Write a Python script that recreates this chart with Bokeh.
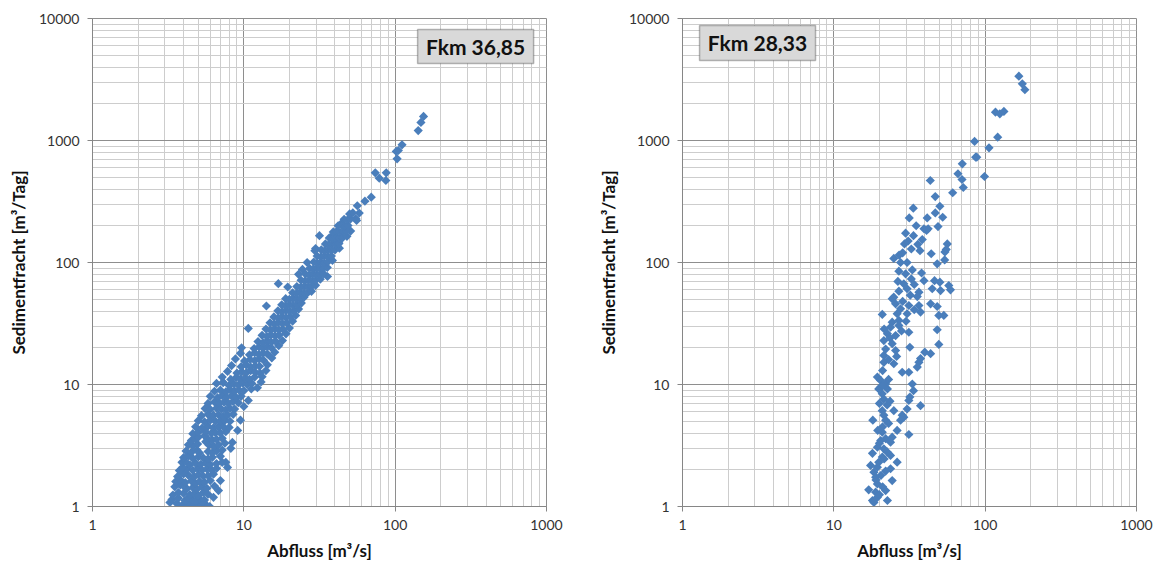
from bokeh.plotting import figure
from bokeh.layouts import row
from bokeh.models import FixedTicker, NumeralTickFormatter, BoxAnnotation, Label, ColumnDataSource
from bokeh.embed import file_html
from bokeh.resources import INLINE

# ---------------- data ----------------
x_ticks = [1, 10, 100, 1000]
y_ticks = [1, 10, 100, 1000, 10000]
x_title = "Abfluss [m³/s]"
y_title = "Sedimentfracht [m³/Tag]"
left_title = "Fkm 36,85"
right_title = "Fkm 28,33"

# Fkm 36,85 : discharge (m3/s) and sediment load (m3/day)
left_q = [
    154, 148, 142, 111, 105, 101.7, 103, 73.9, 78.5, 87.3, 86.8, 69.5, 63.1, 56.2, 57.9, 55, 55.6,
    44, 46.4, 50.8, 39.2, 42.4, 31.6, 29.8, 24.4, 35.7, 16.9, 14.1, 10.7, 9.66, 7.3,
    3.25, 3.9, 4.3, 4.6, 4.9, 5.2, 5.6, 5.95, 3.6, 5.4,
    3.35, 4.1, 4.5, 4.8, 5.1, 5.5, 6.3, 3.7, 4.3,
    3.4, 4.0, 4.4, 4.7, 5.0, 5.4, 5.8, 6.8, 3.7,
    3.5, 4.2, 4.6, 4.9, 5.3, 5.7, 6.4, 3.8, 4.0,
    3.55, 4.1, 4.5, 4.8, 5.1, 5.5, 6.0, 7.0, 3.8,
    3.65, 4.3, 4.7, 5.0, 5.4, 5.8, 6.3, 4.0,
    3.75, 4.2, 4.6, 4.95, 5.3, 5.7, 6.1, 7.6, 7.8, 3.95, 6.6,
    3.9, 4.4, 4.8, 5.2, 5.6, 6.0, 6.6, 4.1, 7.2,
    4.0, 4.6, 5.0, 5.4, 5.8, 6.2, 7.0, 4.3,
    4.15, 4.5, 5.8, 6.2, 6.6, 8.2, 4.9, 5.1, 7.2,
    4.3, 4.6, 5.9, 6.3, 6.8, 8.4, 4.95, 5.6, 7.5,
    4.5, 4.75, 5.75, 6.2, 6.6, 7.2, 5.0, 5.5,
    4.6, 5.0, 5.6, 6.1, 6.5, 7.0, 7.6, 9.1,
    4.8, 5.3, 5.8, 6.3, 6.8, 7.3, 8.0,
    5.0, 5.5, 6.0, 6.5, 7.0, 7.5, 8.1, 9.5,
    5.25, 5.8, 6.3, 6.8, 7.3, 7.8, 8.5,
    5.55, 6.0, 6.6, 7.1, 7.6, 8.1, 8.7, 10.0,
    5.8, 6.4, 6.9, 7.4, 7.9, 8.5, 9.2,
    6.0, 6.7, 7.2, 7.7, 8.3, 8.9, 9.6, 10.7,
    6.4, 7.0, 7.6, 8.1, 8.7, 9.3, 10.0, 11.2,
    6.6, 7.3, 8.0, 8.6, 9.2, 9.8, 10.5, 11.3, 12.3, 13.0,
    7.2, 8.2, 8.9, 9.5, 10.2, 10.9, 11.8, 13.2,
    7.8, 9.0, 9.7, 10.4, 11.1, 11.9, 12.8, 14.0,
    8.3, 9.6, 10.4, 11.1, 11.9, 12.7, 14.3,
    8.8, 10.1, 11.0, 11.8, 12.6, 13.5, 15.3,
    9.5, 10.9, 11.8, 12.6, 13.4, 14.3, 16.0,
    11.7, 12.6, 13.4, 14.3, 15.2, 17.0,
    12.4, 13.4, 14.3, 15.2, 16.2, 18.0,
    13.2, 14.2, 15.1, 16.1, 17.1, 19.0,
    14.0, 15.0, 16.0, 17.0, 18.1, 20.0,
    14.9, 15.9, 16.9, 18.0, 19.2, 21.0,
    15.8, 16.9, 17.9, 19.0, 20.2, 22.0,
    16.8, 17.9, 19.0, 20.1, 21.3, 23.0,
    17.8, 18.9, 20.0, 21.2, 22.4, 24.0,
    18.9, 20.0, 21.2, 22.4, 23.7, 25.0,
    21.0, 22.3, 23.6, 25.0, 26.4, 28.0,
    19.5, 22.4, 23.8, 25.2, 26.6, 28.0, 29.8,
    23.9, 25.3, 26.8, 28.3, 29.8, 32.0,
    23.0, 25.6, 27.1, 28.6, 30.2, 31.8, 33.6,
    27.2, 28.8, 30.4, 32.0, 33.7, 35.6,
    26.2, 29.0, 30.6, 32.3, 34.0, 35.8, 38.5,
    30.5, 32.3, 34.1, 36.0, 37.9,
    29.5, 32.5, 34.3, 36.2, 38.1, 40.1, 42.8,
    34.6, 36.4, 38.3, 40.3, 42.5,
    36.7, 38.6, 40.7, 42.8, 45.0, 48.0,
    39.0, 41.1, 43.2, 45.5, 47.7,
    42.0, 44.2, 46.5, 48.8,
    46.0, 48.3, 50.6,
    50.0, 52.5,
]
left_s = [
    1574, 1406, 1206, 922, 828, 813, 708, 543, 491, 543, 470, 343, 318, 292, 254, 228, 221,
    208, 197, 181, 170, 147, 166, 130, 87.7, 76.8, 67, 44, 28.8, 20, 10.4,
    1.08, 1.02, 1.05, 1.01, 1.07, 1.03, 1.04, 1.0, 1.06, 1.09,
    1.14, 1.12, 1.15, 1.11, 1.16, 1.13, 1.19, 1.17, 1.18,
    1.24, 1.28, 1.25, 1.27, 1.23, 1.3, 1.26, 1.35, 1.3,
    1.45, 1.4, 1.43, 1.39, 1.44, 1.41, 1.47, 1.5, 1.47,
    1.6, 1.57, 1.62, 1.55, 1.6, 1.58, 1.63, 1.63, 1.65,
    1.76, 1.8, 1.75, 1.82, 1.77, 1.79, 1.84, 1.85,
    1.97, 2.02, 1.98, 2.04, 1.99, 2.03, 2.0, 2.3, 2.09, 2.1, 2.05,
    2.3, 2.2, 2.26, 2.22, 2.27, 2.21, 2.25, 2.35, 2.3,
    2.52, 2.48, 2.55, 2.5, 2.46, 2.53, 2.58, 2.6,
    2.85, 2.78, 2.82, 2.76, 2.84, 3.0, 2.9, 2.75, 2.9,
    3.2, 3.14, 3.18, 3.12, 3.2, 3.35, 3.25, 3.4, 3.3,
    3.47, 3.6, 3.6, 3.5, 3.55, 3.62, 3.7, 3.8,
    3.95, 4.05, 4.1, 3.98, 4.02, 4.0, 4.1, 4.2,
    4.5, 4.4, 4.55, 4.42, 4.48, 4.52, 4.45,
    5.05, 4.95, 5.1, 4.98, 5.02, 5.08, 5.0, 5.1,
    5.55, 5.7, 5.6, 5.65, 5.52, 5.62, 5.7,
    6.35, 6.25, 6.4, 6.3, 6.2, 6.38, 6.3, 6.6,
    7.0, 7.2, 7.05, 7.15, 7.0, 7.25, 7.1,
    8.0, 7.8, 8.1, 7.9, 8.05, 7.85, 8.0, 7.4,
    8.8, 9.0, 8.7, 9.1, 8.85, 9.0, 8.9, 9.2,
    10.2, 10.4, 9.8, 10.1, 9.9, 10.3, 10.0, 10.2, 9.4, 10.5,
    11.5, 11.0, 11.4, 11.1, 11.3, 11.0, 11.5, 11.6,
    12.8, 12.4, 12.7, 12.5, 13.0, 12.6, 12.4, 13.0,
    14.3, 14.0, 14.4, 13.9, 14.2, 14.1, 14.5,
    16.2, 15.6, 16.0, 15.7, 16.2, 15.8, 16.5,
    18.0, 17.5, 18.2, 17.6, 18.0, 17.8, 18.4,
    19.7, 20.3, 19.8, 20.4, 20.0, 20.8,
    22.5, 22.0, 22.8, 22.2, 22.6, 22.9,
    25.3, 24.8, 25.5, 25.0, 25.4, 26.0,
    28.5, 28.0, 28.6, 28.1, 28.4, 29.0,
    32.0, 31.4, 32.2, 31.6, 32.0, 33.0,
    35.8, 35.2, 36.0, 35.4, 35.9, 36.8,
    40.2, 39.5, 40.4, 39.8, 40.2, 41.5,
    45.0, 44.3, 45.2, 44.6, 45.0, 46.5,
    50.5, 49.8, 50.6, 50.0, 50.8, 52.0,
    56.5, 55.8, 56.8, 56.0, 56.6, 58.0,
    63.0, 63.5, 62.8, 63.8, 63.0, 63.6, 65.0,
    71.5, 70.5, 71.2, 70.6, 71.4, 73.0,
    80.0, 80.2, 79.0, 80.4, 79.6, 80.0, 81.0,
    89.5, 88.8, 89.8, 89.0, 90.0, 91.0,
    100, 101, 99, 100.5, 99.5, 101, 104,
    113, 111, 113.5, 112, 113,
    125, 127, 125, 127.5, 126, 127, 131,
    142, 140, 142.5, 141, 143,
    159, 157, 160, 158, 160, 164,
    178, 180, 177, 179, 181,
    200, 202, 199, 201,
    226, 223, 227,
    250, 255,
]

# Fkm 28,33
right_q = [
    167, 176, 183, 117, 125, 133, 121, 85.1, 106, 86.5, 88, 99, 70.6, 66.1, 70.3, 71.7, 61,
    43.4, 46.8, 50.2, 46.8, 52.4, 33.5, 31.5, 41.4, 48.8, 39.4, 42, 29.8, 33.6, 41,
    29.3, 38.4, 35.9, 32.5, 37.1, 44, 56.2, 55.3, 54.2, 54, 24.9, 27.6, 30.5, 48.2,
    26.9, 29.8, 33, 32.5, 39.4, 46.3, 50.2, 57.5, 59, 29, 30.5, 26.9, 36.5, 44.7, 50.7,
    24.9, 35.6, 43.6, 24.3, 25.6, 31.3, 48.2, 36.5, 27.6, 20.9, 26.2, 30.5, 37.4, 49.4, 53.3,
    24.3, 26.9, 23.7, 31.3, 48.2, 22.6, 25.6, 49.4, 26.9, 21.4, 24.3, 25.6, 31.8, 39.9, 43.6,
    21.4, 21.4, 24.9, 28.3, 31.3, 36.5, 37.4, 35.6, 19.4, 20.4, 22, 20.4, 22.6, 20.9, 21.4,
    33, 33.6, 31.8, 31.3, 37.4, 30.5, 20.9, 24.9, 21.4, 28.3, 22, 18.1, 27.6, 29, 26.2,
    20.9, 31.3, 24.3, 20.4, 23.7, 19.4, 21.4, 18.0, 23.7, 20.9, 26.2, 17.5, 19.4, 23.7, 18.4,
    18.9, 24.3, 19.4, 17.0, 22, 18.9, 18.0, 22.6, 19.4, 18.4, 19.8,
    20.0, 21.0, 19.0, 20.5, 22.0, 19.8, 21.5, 22.5, 20.0, 22.0, 21.0, 23.0, 19.5, 22.5,
    20.0, 23.5, 21.0, 23.0, 21.0, 23.0, 22.0, 26.0, 23.5, 28.0, 21.5, 30.0, 34.0, 28.5,
    32.0, 26.5, 34.0, 38.0, 28.5, 31.0, 35.0, 27.0,
]
right_s = [
    3365, 2915, 2605, 1706, 1655, 1730, 1065, 982, 871, 730, 730, 507, 644, 534, 479, 412, 373,
    470, 347, 289, 255, 235, 279, 232, 232, 197, 189, 189, 174, 166, 183,
    142, 154, 141, 129, 125, 118, 142, 128, 122, 105, 108, 100, 100, 97.6,
    84.9, 80.8, 87, 73.4, 71, 71, 69, 64.7, 59.7, 66.9, 60.9, 58.2, 57.1, 60.9, 58.9,
    52, 52.6, 45.8, 50.4, 45.8, 44.4, 43.6, 44.4, 41.7, 37.5, 38, 38, 39.2, 36.8, 36.8,
    32.4, 33.5, 29.5, 26.8, 28.1, 26.1, 25.2, 21.3, 30.5, 22.9, 21.6, 19.0, 20.2, 18.4, 17.9,
    17.3, 15.2, 14.8, 12.6, 12.6, 15.2, 16.3, 13.9, 11.5, 10.8, 10.1, 9.5, 9.2, 8.4, 7.6,
    10.1, 8.9, 7.9, 7.4, 6.7, 6.3, 6.1, 6.1, 5.6, 5.6, 5.1, 5.1, 5.1, 5.4, 4.2,
    4.06, 3.89, 3.7, 3.47, 3.37, 3.06, 2.97, 2.73, 2.62, 2.54, 2.31, 2.17, 2.1, 2.04, 1.91,
    1.74, 1.63, 1.53, 1.37, 1.35, 1.31, 1.12, 1.12, 1.19, 1.08, 9.2,
    1.25, 1.45, 1.65, 1.8, 1.95, 2.3, 2.45, 2.8, 3.3, 3.6, 4.5, 4.8, 4.2, 6.8,
    7.0, 7.3, 9.8, 11.0, 13.0, 16.0, 19.5, 17.0, 24.0, 27.5, 28.5, 33.0, 41.0, 48.0,
    54.0, 70.0, 66.0, 82.0, 120.0, 150.0, 200.0, 115.0,
]

# ---------------- styling ----------------
FONT = "Lato"
MARK = "#4A7EBB"
MAJOR = "#8E8E8E"
MINOR = "#CDCDCD"
x_minor = [m * d for d in (1, 10, 100) for m in range(2, 10)]
y_minor = [m * d for d in (1, 10, 100, 1000) for m in range(2, 10)]


def panel(q, s, title, box, txt, border_left, border_right):
    p = figure(frame_width=454, frame_height=488,
               x_axis_type="log", y_axis_type="log",
               x_range=(1, 1000), y_range=(1, 10000),
               output_backend="svg", toolbar_location=None,
               min_border_left=border_left, min_border_right=border_right,
               min_border_top=18, min_border_bottom=56)
    p.background_fill_color = "white"
    p.border_fill_color = "white"
    p.outline_line_color = MAJOR

    xt = FixedTicker(ticks=x_ticks, minor_ticks=x_minor)
    yt = FixedTicker(ticks=y_ticks, minor_ticks=y_minor)
    p.xaxis.ticker = xt
    p.yaxis.ticker = yt
    p.xgrid.ticker = xt
    p.ygrid.ticker = yt
    for g in (p.xgrid, p.ygrid):
        g.grid_line_color = MAJOR
        g.grid_line_width = 1
        g.minor_grid_line_color = MINOR
        g.minor_grid_line_width = 1

    for ax in (p.xaxis, p.yaxis):
        ax.formatter = NumeralTickFormatter(format="0")
        ax.axis_line_color = "#868686"
        ax.major_tick_line_color = "#868686"
        ax.major_tick_out = 5
        ax.major_tick_in = 0
        ax.minor_tick_line_color = None
        ax.major_label_text_font = FONT
        ax.major_label_text_font_size = "14px"
        ax.major_label_text_color = "#333333"
        ax.major_label_standoff = 8
        ax.axis_label_text_font = FONT
        ax.axis_label_text_font_size = "17px"
        ax.axis_label_text_font_style = "bold"
        ax.axis_label_text_color = "#111111"
        ax.axis_label_standoff = 7
    p.xaxis.axis_label = x_title
    p.yaxis.axis_label = y_title

    src = ColumnDataSource(dict(q=q, s=s))
    p.scatter(x="q", y="s", source=src, marker="square", angle=0.785398,
              size=6.5, fill_color=MARK, line_color=None)

    l, r, b, t = box
    p.add_layout(BoxAnnotation(left=l, right=r, bottom=b, top=t,
                               fill_color="#D9D9D9", fill_alpha=1.0,
                               line_color="#1A1A1A", line_width=1.5))
    p.add_layout(Label(x=txt[0], y=txt[1], text=title,
                       text_align="center", text_baseline="middle",
                       text_font=FONT, text_font_style="bold",
                       text_font_size="21px", text_color="#111111"))
    return p


p1 = panel(left_q, left_s, left_title,
           (140.7, 822, 4276, 8128), (340, 5890), 92, 33)
p2 = panel(right_q, right_s, right_title,
           (1.296, 7.57, 4525, 8770), (3.13, 6298), 103, 22)

layout = row(p1, p2)
open("out.html", "w").write(file_html(layout, INLINE))
